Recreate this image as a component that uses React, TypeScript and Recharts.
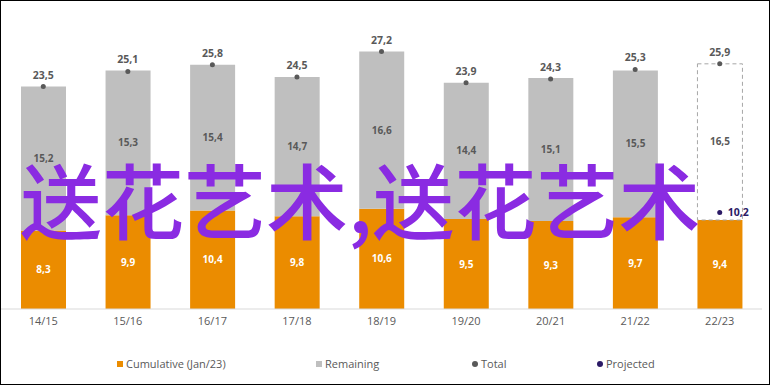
import { Bar, Cell, ComposedChart, LabelList, Legend, Line, XAxis, YAxis } from 'recharts';

const seasons = ['14/15', '15/16', '16/17', '17/18', '18/19', '19/20', '20/21', '21/22', '22/23'];
const cumulative = [8.3, 9.9, 10.4, 9.8, 10.6, 9.5, 9.3, 9.7, 9.4];
const remaining = [15.2, 15.3, 15.4, 14.7, 16.6, 14.4, 15.1, 15.5, 16.5];
const totals = [23.5, 25.1, 25.8, 24.5, 27.2, 23.9, 24.3, 25.3, 25.9];
const projected: (number | null)[] = [null, null, null, null, null, null, null, null, 10.2];

const ORANGE = '#eb8c00';
const GREY = '#bfbfbf';
const DARK = '#595959';
const NAVY = '#2b1a66';
const FONT = '"Open Sans", sans-serif';

const data = seasons.map((season, i) => ({
  season,
  cumulative: cumulative[i],
  remaining: remaining[i],
  total: totals[i],
  projected: projected[i],
}));

const fmt = (v: any) => (v == null ? '' : Number(v).toFixed(1).replace('.', ','));

const legendItems = [
  { label: 'Cumulative (Jan/23)', color: ORANGE, shape: 'square', x: 117 },
  { label: 'Remaining', color: GREY, shape: 'square', x: 316 },
  { label: 'Total', color: DARK, shape: 'dot', x: 472 },
  { label: 'Projected', color: NAVY, shape: 'dot', x: 597 },
];

function ChartLegend() {
  return (
    <div style={{ position: 'relative', width: 770, height: 36, fontFamily: FONT, fontSize: 11, color: DARK }}>
      {legendItems.map((item) => (
        <div key={item.label} style={{ position: 'absolute', left: item.x, top: 11, display: 'flex', alignItems: 'center', whiteSpace: 'nowrap' }}>
          <span
            style={{
              display: 'inline-block',
              width: 6,
              height: 6,
              background: item.color,
              borderRadius: item.shape === 'dot' ? 3 : 0,
              marginRight: 3,
            }}
          />
          <span>{item.label}</span>
        </div>
      ))}
    </div>
  );
}

export default function App() {
  const last = seasons.length - 1;
  return (
    <div style={{ position: 'fixed', left: 0, top: 0, width: 770, height: 385, boxSizing: 'border-box', border: '1px solid #000', background: '#fff', overflow: 'hidden' }}>
      <div style={{ position: 'absolute', left: -1, top: -1 }}>
        <ComposedChart width={770} height={385} data={data} margin={{ top: 25, right: 8, bottom: 4, left: 1 }}>
          <XAxis
            dataKey="season"
            axisLine={{ stroke: '#d9d9d9' }}
            tickLine={false}
            height={36}
            tick={{ fill: DARK, fontSize: 11, fontFamily: FONT }}
          />
          <YAxis hide domain={[0, 30]} />
          <Legend verticalAlign="bottom" height={36} wrapperStyle={{ left: 0, width: 770 }} content={() => <ChartLegend />} />
          <Bar dataKey="cumulative" stackId="a" fill={ORANGE} barSize={45} isAnimationActive={false}>
            <LabelList dataKey="cumulative" position="center" formatter={fmt} fill="#fff" fontSize={10} fontWeight={700} fontFamily={FONT} />
          </Bar>
          <Bar dataKey="remaining" stackId="a" fill={GREY} barSize={45} isAnimationActive={false}>
            {data.map((_, i) => (
              <Cell
                key={`rem-${i}`}
                fill={i === last ? '#fff' : GREY}
                stroke={i === last ? '#a6a6a6' : 'none'}
                strokeDasharray={i === last ? '4 3' : undefined}
              />
            ))}
            <LabelList dataKey="remaining" position="center" formatter={fmt} fill={DARK} fontSize={10} fontWeight={700} fontFamily={FONT} />
          </Bar>
          <Line
            dataKey="total"
            stroke="none"
            dot={{ r: 2.5, fill: DARK, stroke: 'none' }}
            activeDot={false}
            isAnimationActive={false}
          >
            <LabelList dataKey="total" position="top" offset={8} formatter={fmt} fill={DARK} fontSize={10.5} fontWeight={700} fontFamily={FONT} />
          </Line>
          <Line
            dataKey="projected"
            stroke="none"
            dot={{ r: 2.5, fill: NAVY, stroke: 'none' }}
            activeDot={false}
            isAnimationActive={false}
          >
            <LabelList dataKey="projected" position="right" offset={8} formatter={fmt} fill={NAVY} fontSize={10.5} fontWeight={700} fontFamily={FONT} />
          </Line>
        </ComposedChart>
      </div>
      <div
        style={{
          position: 'absolute',
          left: 19,
          top: 147,
          fontFamily: '"Noto Sans CJK SC", sans-serif',
          fontSize: 82,
          fontWeight: 500,
          lineHeight: '100px',
          color: '#8a2be2',
          whiteSpace: 'nowrap',
          pointerEvents: 'none',
        }}
      >
        送花艺术,送花艺术
      </div>
    </div>
  );
}
